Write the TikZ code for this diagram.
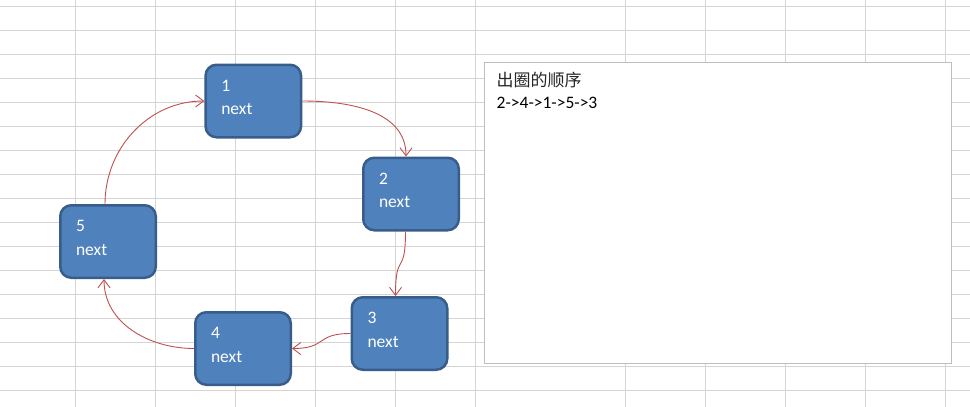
\documentclass[tikz,border=0pt]{standalone}
\usepackage{fontspec}
\setmainfont{Carlito}
\newfontfamily\cjkfont{Noto Sans CJK SC}
\usetikzlibrary{arrows.meta}

\definecolor{nodefill}{RGB}{79,129,189}
\definecolor{nodeline}{RGB}{56,93,138}
\definecolor{linkred}{RGB}{192,80,77}
\definecolor{gridgray}{RGB}{212,212,212}
\definecolor{boxgray}{RGB}{190,190,190}

\tikzset{
    listnode/.style={draw=nodeline, fill=nodefill, line width=2.5pt,
        rounded corners=11pt, minimum width=95.5pt, minimum height=72.5pt,
        text=white, align=left, text width=64pt, text depth=31pt,
        font=\fontsize{17.5}{23.5}\selectfont},
    link/.style={draw=linkred, line width=0.9pt,
        -{Straight Barb[length=8pt,width=12pt]}}
}

\begin{document}
\begin{tikzpicture}[x=1pt,y=-1pt]
    \useasboundingbox (0,0) rectangle (970,407);

    % sheet grid
    \foreach \r in {0,...,16}
        \draw[gridgray, line width=1pt] (0,{6.3+24*\r}) -- (970,{6.3+24*\r});
    \foreach \c in {75.5,155.5,235.5,315.5,395.5,475.5,625.5,705.5,785.5,865.5,945.5}
        \draw[gridgray, line width=1pt] (\c,0) -- (\c,407);

    \node[listnode] (n1) at (253.3,101) {1\\next};
    \node[listnode] (n2) at (411,194) {2\\next};
    \node[listnode] (n3) at (399.5,333.5) {3\\next};
    \node[listnode] (n4) at (243,348.5) {4\\next};
    \node[listnode] (n5) at (108,241.5) {5\\next};

    \draw[link] (n1.east) to[out=0,in=90] ([xshift=-5pt]n2.north);
    \draw[link] ([xshift=-5.5pt]n2.south) to[out=-90,in=90,looseness=1.8] ([xshift=-4pt]n3.north);
    \draw[link] (n3.west) to[out=180,in=0,looseness=1.5] (n4.east);
    \draw[link] (n4.west) to[out=180,in=-90] ([xshift=-4pt]n5.south);
    \draw[link] ([xshift=-3pt]n5.north) to[out=90,in=180] (n1.west);

    % result box
    \draw[boxgray, fill=white, line width=1pt] (484,62) rectangle (951,363);
    \node[anchor=west, inner sep=0, text=black!85,
        font=\cjkfont\fontsize{17}{20}\selectfont] (title) at (496.5,80) {出圈的顺序};
    \node[anchor=west, inner sep=0,
        font=\fontsize{17.5}{20}\selectfont] (order) at (496.5,103) {2->4->1->5->3};
\end{tikzpicture}
\end{document}
